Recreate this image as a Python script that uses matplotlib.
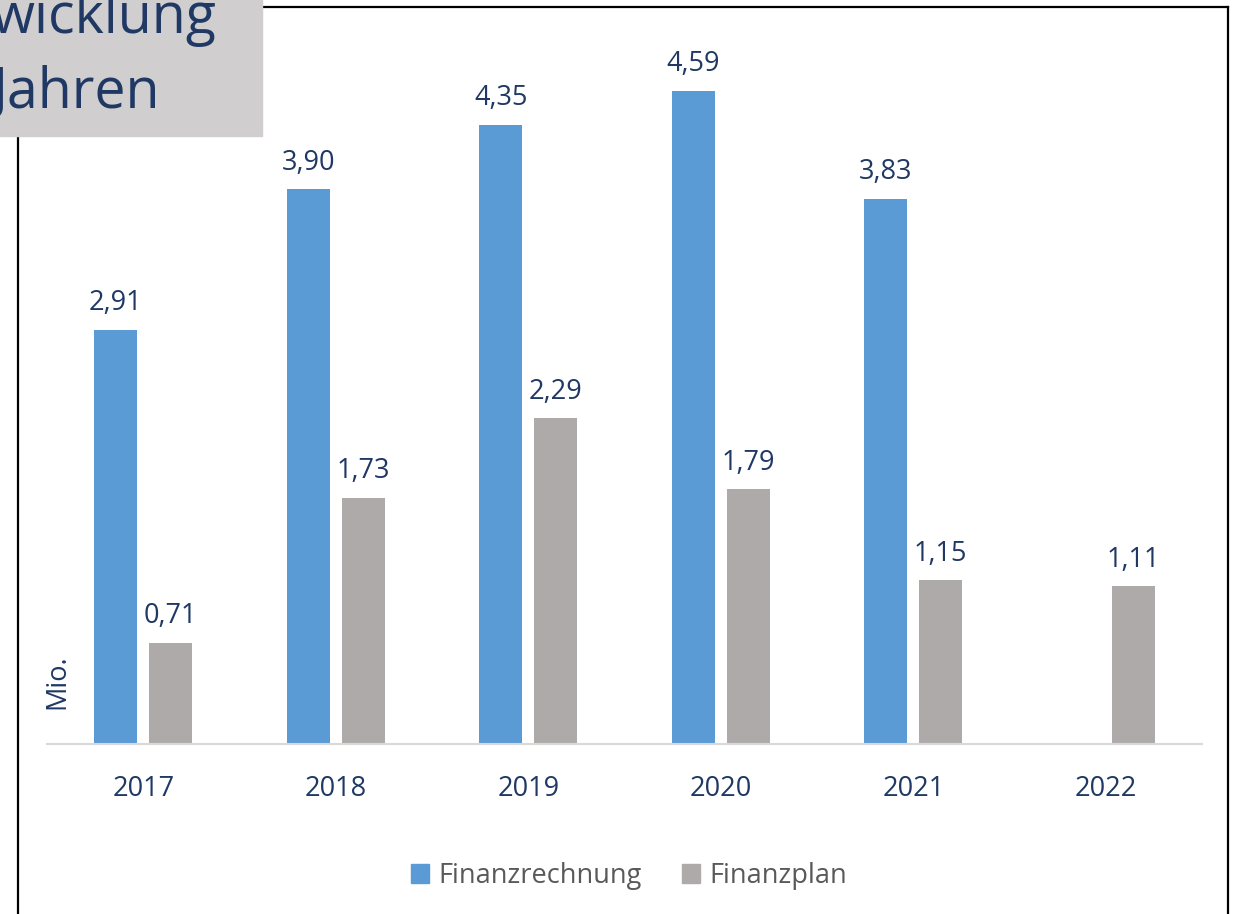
import matplotlib
matplotlib.use("Agg")
import matplotlib.pyplot as plt
from matplotlib.patches import Rectangle
from matplotlib.lines import Line2D
import numpy as np

plt.rcParams['font.family'] = ['Open Sans', 'DejaVu Sans']

years = ["2017", "2018", "2019", "2020", "2021", "2022"]
finanzrechnung = [2.91, 3.90, 4.35, 4.59, 3.83, None]
finanzplan = [0.71, 1.73, 2.29, 1.79, 1.15, 1.11]
series_names = ["Finanzrechnung", "Finanzplan"]

BLUE = "#5B9BD5"
GREY = "#AEAAAA"
DARK = "#1F3864"
FS = 19.5

W, H = 1238, 914
fig = plt.figure(figsize=(W / 100, H / 100), dpi=100)

def fx(px):
    return px / W

def fy(py):
    return 1 - py / H

ax_left, ax_right = 47, 1202
ax_bottom, ax_top = 744, 32.5
ax = fig.add_axes([fx(ax_left), fy(ax_bottom), fx(ax_right - ax_left), (ax_bottom - ax_top) / H])

x = np.arange(len(years))
bw = 0.223
off = 0.143
for i, v in enumerate(finanzrechnung):
    if v is None:
        continue
    ax.bar(x[i] - off, v, width=bw, color=BLUE)
    ax.annotate(f"{v:.2f}".replace(".", ","), (x[i] - off, v), xytext=(0, 9),
                textcoords="offset points", ha="center", va="bottom",
                color=DARK, fontsize=FS)
for i, v in enumerate(finanzplan):
    ax.bar(x[i] + off, v, width=bw, color=GREY)
    ax.annotate(f"{v:.2f}".replace(".", ","), (x[i] + off, v), xytext=(0, 9),
                textcoords="offset points", ha="center", va="bottom",
                color=DARK, fontsize=FS)

ax.set_xlim(-0.5, len(years) - 0.5)
ax.set_ylim(0, 5)
ax.set_xticks(x)
ax.set_xticklabels(years, color=DARK, fontsize=FS)
ax.tick_params(axis="x", length=0, pad=22)
ax.set_yticks([])
for s in ["top", "right", "left"]:
    ax.spines[s].set_visible(False)
ax.spines["bottom"].set_color("#D9D9D9")
ax.spines["bottom"].set_linewidth(1.5)
ax.patch.set_alpha(0)

# Mio. label
fig.text(fx(57), fy(682), "Mio.", rotation=90, ha="center", va="center",
         color=DARK, fontsize=FS)

# Legend
handles = [Rectangle((0, 0), 1, 1, color=BLUE), Rectangle((0, 0), 1, 1, color=GREY)]
leg = fig.legend(handles, series_names, loc="center", bbox_to_anchor=(fx(629), fy(876)),
                 ncol=2, frameon=False, fontsize=FS, handlelength=0.65, handleheight=0.65,
                 handletextpad=0.35, columnspacing=1.5)
for t in leg.get_texts():
    t.set_color("#595959")

# Border frame
fig.add_artist(Line2D([fx(18), fx(18)], [fy(7), fy(914)], color="black", lw=1.6))
fig.add_artist(Line2D([fx(18), fx(1228)], [fy(7), fy(7)], color="black", lw=1.6))
fig.add_artist(Line2D([fx(1228), fx(1228)], [fy(7), fy(914)], color="black", lw=1.6))

# Title box (cut off, as in the reference)
fig.add_artist(Rectangle((0, fy(136)), fx(262), 136 / H, transform=fig.transFigure,
                         color="#D0CECE", zorder=5))
fig.text(fx(216), fy(33), "wicklung", ha="right", va="baseline", color=DARK,
         fontsize=40, zorder=6)
fig.text(fx(160), fy(108), "Jahren", ha="right", va="baseline", color=DARK,
         fontsize=40, zorder=6)

fig.savefig("out.png", dpi=100)
